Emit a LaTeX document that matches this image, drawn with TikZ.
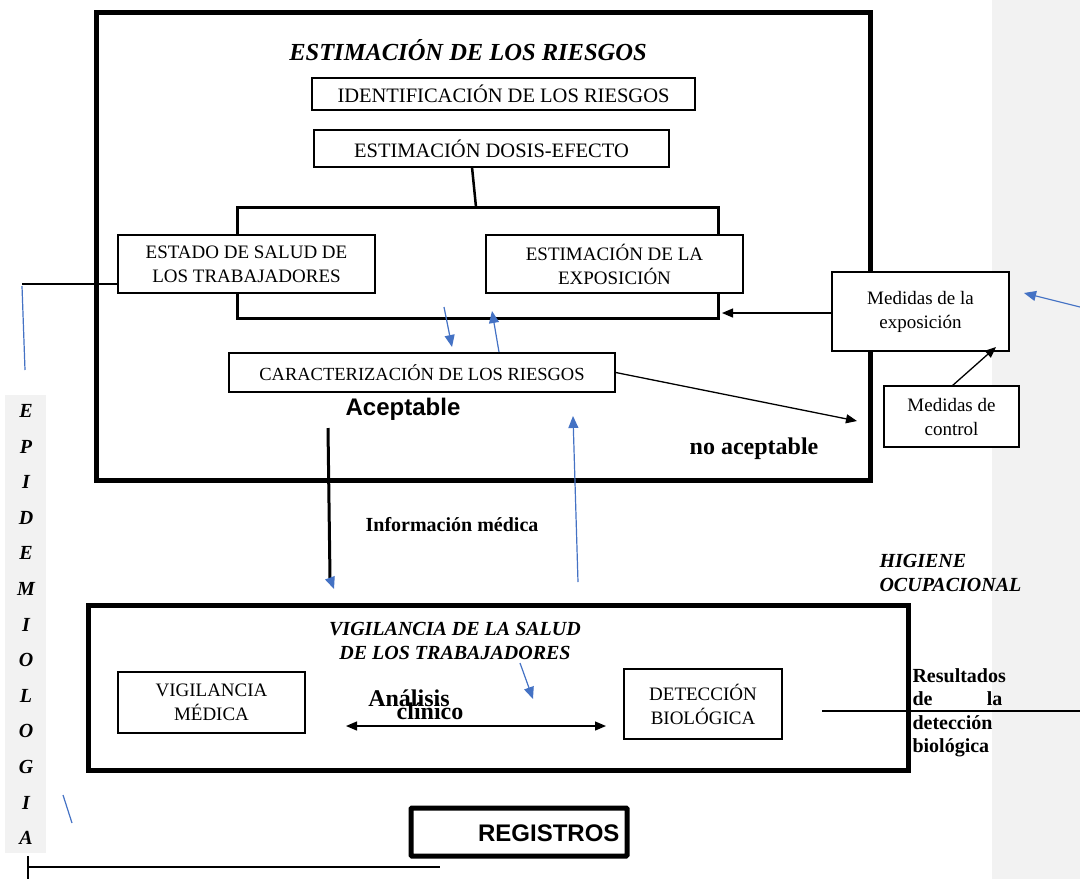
\documentclass[tikz,border=0pt]{standalone}
\usepackage{fontspec}
\setmainfont{Liberation Serif}
\newfontfamily\arialf{Liberation Sans}
\usetikzlibrary{arrows.meta,calc}
\definecolor{bl}{HTML}{4472C4}
\definecolor{pg}{HTML}{F2F2F2}
\begin{document}
\begin{tikzpicture}[x=1pt,y=-1pt,
  box/.style={draw,line width=1.5pt,fill=white,align=center,inner sep=0pt,font=\fontsize{19}{24}\selectfont},
  frame/.style={draw,line width=5pt},
  blarrow/.style={draw=bl,line width=1.2pt,-{Triangle[length=12pt,width=10pt]}},
  bkarrow/.style={draw=black,line width=1.3pt,-{Triangle[length=11pt,width=9pt]}},
  bi/.style={font=\fontsize{20}{24}\selectfont\bfseries\itshape},
  bsans/.style={font=\fontsize{24}{28}\selectfont\arialf\bfseries},
  bser/.style={font=\fontsize{20}{24}\selectfont\bfseries}]
\useasboundingbox (0,0) rectangle (1080,879);
% grey panels
\fill[pg] (992,0) rectangle (1080,879);
\fill[pg] (5,395) rectangle (46,853);
% top frame
\draw[frame] (96,12) rectangle (870,480);
\node[font=\fontsize{24.5}{28}\selectfont\bfseries\itshape] (title) at (468,50) {ESTIMACIÓN DE LOS RIESGOS};
\node[box,minimum width=383pt,minimum height=32pt,font=\fontsize{20.5}{24}\selectfont] (ident) at (503.5,94) {IDENTIFICACIÓN DE LOS RIESGOS};
\node[box,minimum width=355pt,minimum height=37pt,font=\fontsize{20.5}{24}\selectfont] (dosis) at (491.5,148.5) {ESTIMACIÓN DOSIS-EFECTO};
\coordinate (dtop) at (472,167);
\coordinate (brtop) at (476,207);
\draw[line width=2.5pt] (dtop) -- (brtop);
\draw[line width=3pt] (237,207) rectangle (718,318);
\node[box,minimum width=257pt,minimum height=58pt] (salud) at (246.5,264) {ESTADO DE SALUD DE\\LOS TRABAJADORES};
\node[box,minimum width=257pt,minimum height=58pt] (expo) at (614.5,264) {ESTIMACIÓN DE LA\\EXPOSICIÓN};
\node[box,minimum width=386pt,minimum height=39pt,font=\fontsize{18.5}{22}\selectfont] (carac) at (422,372.5) {CARACTERIZACIÓN DE LOS RIESGOS};
\node[box,minimum width=177pt,minimum height=79pt] (medexp) at (920.5,311.5) {Medidas de la\\exposición};
\node[box,minimum width=135pt,minimum height=61pt] (medctl) at (951.5,416.5) {Medidas de\\control};
% left line from salud
\coordinate (lcorner) at (22,284);
\coordinate (lblue) at (25,370);
\draw[line width=2pt] (salud.west |- lcorner) -- (lcorner);
\draw[bl,line width=1.2pt] (22,286) -- (lblue);
% blue arrows near carac
\coordinate (ba1) at (444,307);
\coordinate (ba2) at (452,347);
\coordinate (bb1) at (499,352);
\coordinate (bb2) at (492,311);
\draw[blarrow] (ba1) -- (ba2);
\draw[blarrow] (bb1) -- (bb2);
% labels
\node[bsans] (acept) at (403,409) {Aceptable};
\node[font=\fontsize{24}{28}\selectfont\bfseries] (noacept) at (754,449) {no aceptable};
% arrow carac -> no aceptable
\coordinate (noac) at (857,421);
\draw[bkarrow] (carac.east) -- (noac);
% arrow medexp -> bracket
\coordinate (brright) at (722,313);
\draw[bkarrow] (medexp.west |- brright) -- (brright);
% arrow control -> medexp
\coordinate (ctop) at (952,386);
\coordinate (mexb) at (996,347);
\draw[bkarrow] (ctop) -- (mexb);
% blue arrow from right
\coordinate (rb1) at (1080,307);
\coordinate (rb2) at (1024,293);
\draw[blarrow] (rb1) -- (rb2);
% aceptable down arrow
\coordinate (ad1) at (328,428);
\coordinate (ad2) at (330,578);
\coordinate (ad3) at (334,589);
\draw[line width=3pt] (ad1) -- (ad2);
\draw[blarrow] (ad2) -- (ad3);
% blue up arrow
\coordinate (ub1) at (578,582);
\coordinate (ub2) at (573,416);
\draw[blarrow] (ub1) -- (ub2);
\node[bser] (infmed) at (452,525) {Información médica};
\node[bi,align=left,anchor=north west] (hig) at (876,551) {HIGIENE\\OCUPACIONAL};
% bottom frame
\draw[frame] (88,605) rectangle (908,770);
\node[bi,align=center] (vigt) at (455,641) {VIGILANCIA DE LA SALUD\\DE LOS TRABAJADORES};
\node[box,minimum width=187pt,minimum height=61pt] (vigmed) at (211.5,702.5) {VIGILANCIA\\MÉDICA};
\node[box,minimum width=158pt,minimum height=70pt] (detbio) at (703,704) {DETECCIÓN\\BIOLÓGICA};
\node[font=\fontsize{24}{28}\selectfont\bfseries] (anal) at (409,698) {Análisis};
\node[font=\fontsize{24}{28}\selectfont\bfseries] (clin) at (430,711) {clínico};
\coordinate (dl) at (346,726);
\coordinate (dr) at (606,726);
\draw[line width=1.3pt,{Triangle[length=11pt,width=9pt]}-{Triangle[length=11pt,width=9pt]}] (dl) -- (dr);
\coordinate (vb1) at (520,663);
\coordinate (vb2) at (533,699);
\draw[blarrow] (vb1) -- (vb2);
% right results line
\coordinate (resl) at (822,711);
\coordinate (resr) at (1080,711);
\draw[line width=2pt] (resl) -- (resr);
\node[bser,anchor=base west] (r1) at (909,682) {Resultados};
\node[bser,anchor=base west] (r2a) at (909,705) {de};
\node[bser,anchor=base east] (r2b) at (1006,705) {la};
\node[bser,anchor=base west] (r3) at (909,729) {detección};
\node[bser,anchor=base west] (r4) at (909,752) {biológica};
% registros
\draw[line width=5pt,rounded corners=1pt] (411,808) rectangle (627,856);
\node[bsans,anchor=east] (reg) at (623,833) {REGISTROS};
% bottom-left lines
\coordinate (bl1) at (28,856);
\coordinate (bl2) at (28,879);
\coordinate (bl3) at (440,867);
\draw[line width=2pt] (bl1) -- (bl2);
\draw[line width=1.5pt] (bl1 |- bl3) -- (bl3);
% blue small line
\coordinate (sb1) at (63,795);
\coordinate (sb2) at (72,823);
\draw[bl,line width=1.2pt] (sb1) -- (sb2);
% EPIDEMIOLOGIA
\foreach \l [count=\i from 0] in {E,P,I,D,E,M,I,O,L,O,G,I,A}{
  \node[bi] (ep\i) at (26,{411+\i*35.6}) {\l};
}
\end{tikzpicture}
\end{document}
